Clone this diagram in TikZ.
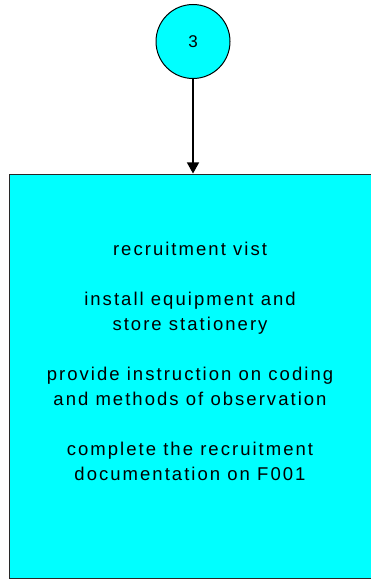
\documentclass[tikz,border=0pt]{standalone}
\usepackage{fontspec}
\setmainfont{Liberation Sans}[LetterSpace=11]
\usetikzlibrary{arrows.meta}
\definecolor{aqua}{RGB}{0,255,255}
\definecolor{edge}{RGB}{40,40,40}
\tikzset{
  connector/.style={draw=black, line width=1.2pt, -{Triangle[length=11pt,width=12pt]}},
  boxtext/.style={align=center, font=\fontsize{18.5}{25}\selectfont},
}
\begin{document}
\begin{tikzpicture}[x=1pt,y=-1pt]
\useasboundingbox (0,0) rectangle (371,580);
\node[circle, draw=black, line width=1pt, fill=aqua, minimum size=74pt, inner sep=0pt,
      font=\fontsize{17}{17}\selectfont] (c3) at (193,41.5) {3};
\node[draw=edge, line width=1.6pt, fill=aqua, minimum width=375pt, minimum height=404pt,
      anchor=north west, inner sep=0pt] (box) at (8.5,173.5) {};
\node[boxtext, anchor=north] (txt) at (190,239) {recruitment vist\\[25pt]install equipment and\\store stationery\\[25pt]provide instruction on coding\\and methods of observation\\[25pt]complete the recruitment\\documentation on F001};
\draw[connector] (c3.south) -- (c3.south |- box.north);
\end{tikzpicture}
\end{document}
